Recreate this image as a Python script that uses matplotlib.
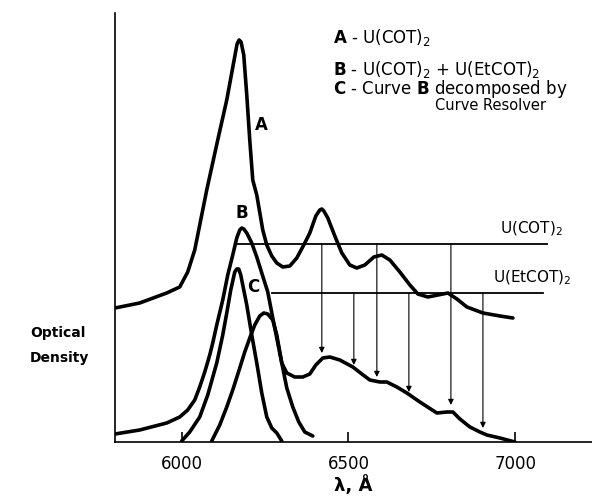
import matplotlib.pyplot as plt
import numpy as np

# wavelength (Angstrom) and optical density (arbitrary units)
# curve A - U(COT)2
lam_a = [5800, 5874, 5955, 5994, 6018, 6039, 6054, 6075, 6108, 6135, 6156, 6166, 6172,
         6178, 6186, 6195, 6204, 6213, 6225, 6243, 6255, 6270, 6285, 6303, 6324, 6345,
         6369, 6384, 6402, 6414, 6420, 6426, 6438, 6459, 6480, 6504, 6525, 6549, 6576,
         6600, 6624, 6654, 6684, 6708, 6738, 6768, 6798, 6825, 6855, 6903, 6954, 6993]
od_a = [1.34, 1.39, 1.49, 1.55, 1.70, 1.92, 2.17, 2.52, 3.02, 3.42, 3.80, 3.98, 4.02,
        4.00, 3.87, 3.47, 3.02, 2.62, 2.47, 2.12, 1.97, 1.86, 1.79, 1.75, 1.76, 1.84,
        1.99, 2.09, 2.26, 2.32, 2.33, 2.31, 2.24, 2.06, 1.89, 1.77, 1.74, 1.77, 1.85,
        1.87, 1.82, 1.70, 1.57, 1.48, 1.45, 1.47, 1.49, 1.43, 1.35, 1.29, 1.26, 1.24]

# curve B - U(COT)2 + U(EtCOT)2
lam_b = [5800, 5874, 5955, 5994, 6018, 6039, 6054, 6069, 6084, 6093, 6105, 6123, 6138,
         6153, 6165, 6174, 6180, 6186, 6195, 6210, 6225, 6240, 6258, 6273, 6288, 6300,
         6315, 6339, 6363, 6384, 6402, 6423, 6444, 6474, 6513, 6540, 6564, 6594, 6615,
         6645, 6675, 6714, 6765, 6795, 6813, 6834, 6864, 6894, 6915, 6954, 6999]
od_b = [0.08, 0.12, 0.19, 0.25, 0.32, 0.42, 0.55, 0.70, 0.87, 0.99, 1.17, 1.42, 1.67,
        1.87, 2.04, 2.12, 2.14, 2.13, 2.09, 1.99, 1.85, 1.69, 1.50, 1.24, 0.99, 0.79,
        0.69, 0.65, 0.65, 0.68, 0.77, 0.84, 0.85, 0.82, 0.75, 0.68, 0.62, 0.60, 0.60,
        0.55, 0.49, 0.40, 0.29, 0.30, 0.30, 0.23, 0.15, 0.10, 0.07, 0.04, 0.00]

# curve C - B decomposed: U(COT)2 component
lam_c1 = [6000, 6024, 6054, 6078, 6105, 6123, 6135, 6147, 6159, 6165, 6171, 6177,
          6195, 6210, 6225, 6240, 6255, 6270, 6285, 6300]
od_c1 = [0.01, 0.10, 0.25, 0.47, 0.79, 1.07, 1.29, 1.52, 1.70, 1.73, 1.73, 1.67,
         1.37, 1.07, 0.79, 0.49, 0.25, 0.14, 0.09, 0.01]

# curve C - U(EtCOT)2 component
lam_c2 = [6090, 6114, 6135, 6153, 6174, 6189, 6204, 6219, 6234, 6246, 6258, 6273,
          6285, 6300, 6315, 6333, 6351, 6369, 6393]
od_c2 = [0.01, 0.17, 0.35, 0.52, 0.74, 0.90, 1.04, 1.17, 1.26, 1.29, 1.28, 1.22,
         1.07, 0.79, 0.54, 0.35, 0.20, 0.10, 0.06]

# reference levels
lvl_cot = 1.98
lvl_etcot = 1.49
span_cot = [6162, 7095]
span_etcot = [6270, 7083]

# arrows: wavelength, which level they start from, arrow tip
arrow_lam = [6420, 6516, 6585, 6681, 6807, 6903]
arrow_src = ['cot', 'et', 'cot', 'et', 'cot', 'et']
arrow_tip = [0.89, 0.77, 0.65, 0.50, 0.37, 0.14]

xticks = [6000, 6500, 7000]

fig = plt.figure(figsize=(5.92, 4.98), dpi=100)
ax = fig.add_axes([115 / 592, 56 / 498, 477 / 592, 429 / 498])

lw = 2.6
for lam, od in [(lam_a, od_a), (lam_b, od_b), (lam_c1, od_c1), (lam_c2, od_c2)]:
    ax.plot(lam, od, color='black', lw=lw, solid_capstyle='round', solid_joinstyle='round')

ax.plot(span_cot, [lvl_cot, lvl_cot], color='black', lw=1.3)
ax.plot(span_etcot, [lvl_etcot, lvl_etcot], color='black', lw=1.3)

for lam, src, tip in zip(arrow_lam, arrow_src, arrow_tip):
    start = lvl_cot if src == 'cot' else lvl_etcot
    ax.annotate('', xy=(lam, tip), xytext=(lam, start),
                arrowprops=dict(arrowstyle='-|>', color='black', lw=0.8,
                                mutation_scale=8, shrinkA=0, shrinkB=0))

ax.text(6953, lvl_cot + 0.06, 'U(COT)$_2$', fontsize=11, ha='left', va='bottom')
ax.text(6932, lvl_etcot + 0.06, 'U(EtCOT)$_2$', fontsize=11, ha='left', va='bottom')

# curve letters
ax.text(6240, 3.17, 'A', fontsize=12, fontweight='bold', ha='center', va='center')
ax.text(6180, 2.29, 'B', fontsize=12, fontweight='bold', ha='center', va='center')
ax.text(6213, 1.55, 'C', fontsize=12, fontweight='bold', ha='center', va='center')

# legend text
leg_x = 0.562
fig.text(leg_x, 1 - 37 / 498, r'$\mathbf{A}$ - U(COT)$_2$', fontsize=12, va='center')
fig.text(leg_x, 1 - 69 / 498, r'$\mathbf{B}$ - U(COT)$_2$ + U(EtCOT)$_2$', fontsize=12,
         va='center')
fig.text(leg_x, 1 - 89 / 498, r'$\mathbf{C}$ - Curve $\mathbf{B}$ decomposed by', fontsize=12,
         va='center')
fig.text(0.735, 1 - 106 / 498, 'Curve Resolver', fontsize=10.5, va='center')

fig.text(30 / 592, 1 - 333 / 498, 'Optical', fontsize=10, fontweight='bold', va='center')
fig.text(30 / 592, 1 - 358 / 498, 'Density', fontsize=10, fontweight='bold', va='center')

ax.set_xlim(5800, 7230)
ax.set_ylim(0, 4.29)
ax.set_xticks(xticks)
ax.set_xticklabels([str(t) for t in xticks], fontsize=12)
ax.tick_params(axis='x', direction='in', length=7, width=1.2, pad=9)
ax.set_yticks([])
ax.set_xlabel('λ, Å', fontsize=13, fontweight='bold', labelpad=2)
for side in ['top', 'right']:
    ax.spines[side].set_visible(False)
for side in ['left', 'bottom']:
    ax.spines[side].set_linewidth(1.2)

fig.savefig('out.png', dpi=100)
